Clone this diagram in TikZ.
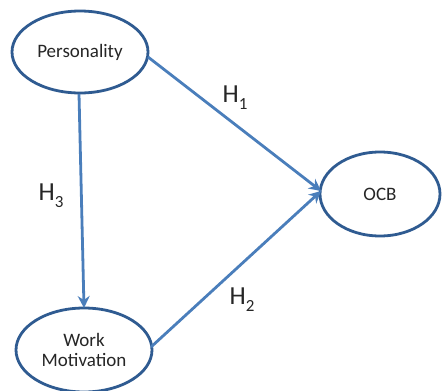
\documentclass[tikz,border=0pt]{standalone}
\usepackage{fontspec}
\setmainfont{Carlito}
\usetikzlibrary{shapes.geometric,arrows.meta}
\definecolor{ellborder}{HTML}{2F5B91}
\definecolor{arrowblue}{HTML}{4A7EBB}
\definecolor{textgray}{HTML}{262626}
\newcommand{\hsub}[1]{H\raisebox{-0.28em}{\fontsize{17}{19}\selectfont #1}}
\tikzset{
  construct/.style={ellipse, draw=ellborder, line width=2.8pt, fill=white, inner sep=0pt,
    font=\fontsize{19}{21}\selectfont, text=textgray, align=center},
  link/.style={draw=arrowblue, line width=2.8pt, -{Stealth[length=12pt,width=12pt,inset=4pt]}},
  hyp/.style={font=\fontsize{26}{28}\selectfont, text=textgray, inner sep=0pt}
}
\begin{document}
\begin{tikzpicture}[x=1pt,y=-1pt]
\useasboundingbox (0,0) rectangle (442,391);
\node[construct, minimum width=136pt, minimum height=82pt] (pers) at (80,52) {Personality};
\node[construct, minimum width=120pt, minimum height=84pt] (ocb) at (380,194) {OCB};
\node[construct, minimum width=136pt, minimum height=84pt] (wm) at (84,350) {Work\\[-1pt]Motivation};
\coordinate (pe) at (148,57);
\coordinate (we) at (151,347);
\coordinate (oin) at (321,191);
\coordinate (ps) at (79,94);
\coordinate (wn) at (84,308);
\draw[link] (pe) -- (oin);
\draw[link] (we) -- (oin);
\draw[link] (ps) -- (wn);
\node[hyp] (h1) at (235,98) {\hsub{1}};
\node[hyp] (h2) at (242,300) {\hsub{2}};
\node[hyp] (h3) at (51,196) {\hsub{3}};
\end{tikzpicture}
\end{document}
